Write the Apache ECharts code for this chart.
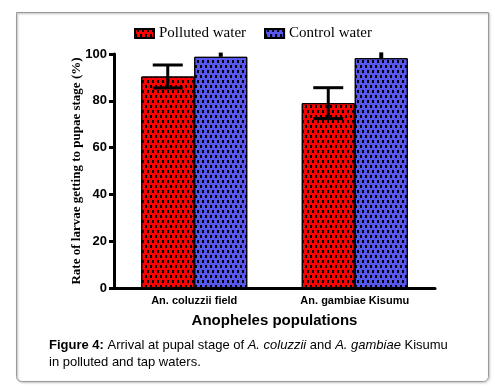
<!DOCTYPE html>
<html>
<head>
<meta charset="utf-8">
<script src="https://cdn.jsdelivr.net/npm/echarts@6/dist/echarts.min.js"></script>
<style>html,body{margin:0;padding:0;background:#fff}#c{width:495px;height:390px}</style>
</head>
<body>
<div id="c"></div>
<script>
var categories = ['An. coluzzii field', 'An. gambiae Kisumu'];
var pollutedValues = [90.4, 79.0];
var pollutedErrors = [4.9, 6.6];
var controlValues = [98.8, 98.2];
var controlErrors = [1.8, 2.5];
var yTicks = [0, 20, 40, 60, 80, 100];

var chart = echarts.init(document.getElementById('c'), null, {renderer: 'canvas'});
var BAR_W = 53;
function decal() {
  return {symbol: 'rect', symbolSize: 1, color: '#000', dashArrayX: [[2, 3], [0, 2, 2, 1]], dashArrayY: [3, 2], rotation: 0};
}
function errSeries(name, values, errors, side, capW, both) {
  return {
    type: 'custom', name: name + ' err', z: 5, silent: true,
    data: values.map(function (v, i) { return [i, v, errors[i]]; }),
    renderItem: function (params, api) {
      var i = api.value(0), v = api.value(1), e = api.value(2);
      var c = api.coord([i, v]);
      var x = c[0] + side * BAR_W / 2;
      var top = api.coord([i, v + e])[1];
      var bot = both ? api.coord([i, v - e])[1] : c[1];
      var style = {stroke: '#000', lineWidth: 3};
      var children = [{type: 'line', shape: {x1: x, y1: top, x2: x, y2: bot}, style: {stroke: '#000', lineWidth: both ? 3 : 4}}];
      if (capW > 0) {
        children.push({type: 'line', shape: {x1: x - capW / 2, y1: top, x2: x + capW / 2, y2: top}, style: style});
        if (both) children.push({type: 'line', shape: {x1: x - capW / 2, y1: bot, x2: x + capW / 2, y2: bot}, style: style});
      }
      return {type: 'group', children: children};
    }
  };
}

chart.setOption({
  animation: false,
  legend: {
    data: ['Polluted water', 'Control water'],
    left: 129, top: 21, itemWidth: 19, itemHeight: 9, itemGap: 18, icon: 'rect',
    textStyle: {fontFamily: 'Liberation Serif', fontSize: 15, color: '#000'}
  },
  grid: {left: 114, right: 60, top: 54, bottom: 102, containLabel: false},
  xAxis: {
    type: 'category', data: categories,
    axisLine: {lineStyle: {color: '#000', width: 3}},
    axisTick: {alignWithLabel: true, length: 6, lineStyle: {color: '#000', width: 3}},
    axisLabel: {fontFamily: 'Liberation Sans', fontWeight: 'bold', fontSize: 11, color: '#000', margin: 7},
    name: 'Anopheles populations', nameLocation: 'middle', nameGap: 25,
    nameTextStyle: {fontFamily: 'Liberation Sans', fontWeight: 'bold', fontSize: 15, color: '#000'}
  },
  yAxis: {
    type: 'value', min: 0, max: 100, interval: 20,
    axisLine: {show: true, lineStyle: {color: '#000', width: 3}},
    axisTick: {show: true, length: 5, lineStyle: {color: '#000', width: 3}},
    splitLine: {show: false},
    axisLabel: {fontFamily: 'Liberation Sans', fontWeight: 'bold', fontSize: 13, color: '#000', margin: 7,
      formatter: function (v) { return yTicks.indexOf(v) >= 0 ? String(v) : ''; }},
    name: 'Rate of larvae getting to pupae stage (%)', nameLocation: 'middle', nameGap: 31, nameMoveOverlap: false,
    nameTextStyle: {fontFamily: 'Liberation Serif', fontWeight: 'bold', fontSize: 13, color: '#000'}
  },
  series: [
    {name: 'Polluted water', type: 'bar', data: pollutedValues, barWidth: BAR_W, barGap: '0%',
     itemStyle: {color: '#FF0000', borderColor: '#000', borderWidth: 1, decal: decal()}},
    {name: 'Control water', type: 'bar', data: controlValues, barWidth: BAR_W, barGap: '0%',
     itemStyle: {color: '#5858F0', borderColor: '#000', borderWidth: 1, decal: decal()}},
    errSeries('Polluted water', pollutedValues, pollutedErrors, -1, 30, true),
    errSeries('Control water', controlValues, controlErrors, 1, 0, false)
  ],
  graphic: [
    {type: 'rect', left: 14, top: 10, shape: {width: 472, height: 369, r: [0, 0, 5, 5]},
     style: {fill: 'none', stroke: '#9a9a9a', lineWidth: 1, shadowColor: 'rgba(0,0,0,0.35)', shadowBlur: 2, shadowOffsetX: 1, shadowOffsetY: 1}, silent: true},
    {type: 'text', left: 49, top: 337, silent: true,
     style: {text: '{b|Figure 4:} Arrival at pupal stage of {i|A. coluzzii} and {i|A. gambiae} Kisumu\nin polluted and tap waters.',
       font: '13px "Liberation Sans"', fill: '#000', lineHeight: 17,
       rich: {b: {fontWeight: 'bold', fontSize: 13, fontFamily: 'Liberation Sans'}, i: {fontStyle: 'italic', fontSize: 13, fontFamily: 'Liberation Sans'}}}}
  ]
});
</script>
</body>
</html>
